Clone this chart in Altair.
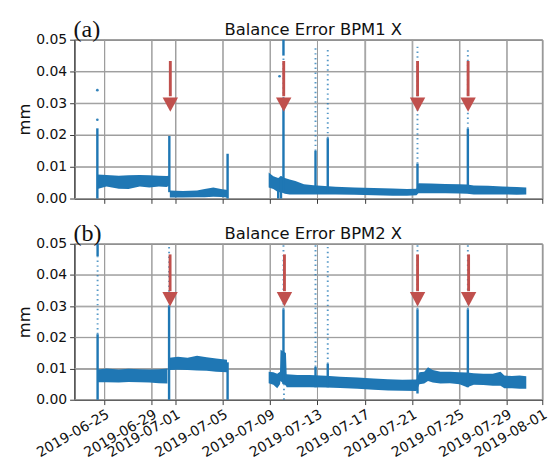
import altair as alt
import pandas as pd

BLUE = "#1f77b4"
RED = "#c0504d"

# ---------------- axis ticks ----------------
tick_dates = ["2019-06-25T00:00", "2019-06-29T00:00", "2019-07-01T00:00", "2019-07-05T00:00",
              "2019-07-09T00:00", "2019-07-13T00:00", "2019-07-17T00:00", "2019-07-21T00:00",
              "2019-07-25T00:00", "2019-07-29T00:00", "2019-08-01T00:00"]
y_ticks = [0.0, 0.01, 0.02, 0.03, 0.04, 0.05]

# ---------------- panel (a): BPM1 ----------------
a_band_seg = [1]*9 + [2]*7 + [3]*26
a_band_time = ["2019-06-24T09:30", "2019-06-25T04:00", "2019-06-26T05:00", "2019-06-27T00:30",
               "2019-06-27T23:30", "2019-06-28T19:00", "2019-06-29T14:20", "2019-06-30T05:50",
               "2019-06-30T11:00",
               "2019-06-30T12:30", "2019-07-01T14:40", "2019-07-02T19:40", "2019-07-03T11:10",
               "2019-07-04T04:40", "2019-07-04T20:10", "2019-07-05T10:00",
               "2019-07-08T21:00", "2019-07-09T06:30", "2019-07-09T16:20", "2019-07-09T22:00",
               "2019-07-10T05:50", "2019-07-10T15:30", "2019-07-11T03:10", "2019-07-11T20:30",
               "2019-07-12T16:00", "2019-07-13T07:20", "2019-07-14T12:30", "2019-07-16T03:00",
               "2019-07-17T17:50", "2019-07-19T08:30", "2019-07-20T13:30", "2019-07-21T08:50",
               "2019-07-21T12:40", "2019-07-22T14:00", "2019-07-23T19:00", "2019-07-25T00:00",
               "2019-07-25T15:30", "2019-07-26T05:00", "2019-07-27T10:00", "2019-07-28T15:10",
               "2019-07-29T20:10", "2019-07-30T15:30"]
a_band_low = [0.0030, 0.0038, 0.0031, 0.0030, 0.0038, 0.0035, 0.0038, 0.0036, 0.0040,
              0.0003, 0.0003, 0.0004, 0.0004, 0.0006, 0.0005, 0.0003,
              0.0035, 0.0030, 0.0020, 0.0020, 0.0015, 0.0013, 0.0013, 0.0013, 0.0013, 0.0013,
              0.0013, 0.0012, 0.0010, 0.0009, 0.0009, 0.0010, 0.0017, 0.0017, 0.0017, 0.0016,
              0.0015, 0.0013, 0.0013, 0.0013, 0.0012, 0.0013]
a_band_high = [0.0076, 0.0074, 0.0072, 0.0073, 0.0074, 0.0073, 0.0072, 0.0071, 0.0072,
               0.0025, 0.0024, 0.0025, 0.0030, 0.0035, 0.0030, 0.0027,
               0.0082, 0.0070, 0.0065, 0.0070, 0.0065, 0.0060, 0.0055, 0.0045, 0.0042, 0.0040,
               0.0037, 0.0035, 0.0033, 0.0032, 0.0030, 0.0031, 0.0048, 0.0047, 0.0046, 0.0045,
               0.0044, 0.0041, 0.0040, 0.0038, 0.0036, 0.0035]

a_spike_time = ["2019-06-24T09:30", "2019-06-30T11:30", "2019-07-05T09:40", "2019-07-09T16:20",
                "2019-07-09T22:00", "2019-07-10T03:00", "2019-07-10T03:00", "2019-07-12T20:00",
                "2019-07-13T20:50", "2019-07-21T10:50", "2019-07-25T17:00"]
a_spike_low = [0.0, 0.0020, 0.0, 0.0, 0.0, 0.0020, 0.0450, 0.0020, 0.0020, 0.0020, 0.0020]
a_spike_high = [0.0221, 0.0197, 0.0141, 0.0060, 0.0070, 0.0300, 0.0500, 0.0150, 0.0190, 0.0110, 0.0220]

a_sparse_time = ["2019-07-10T03:00", "2019-07-12T20:00", "2019-07-13T20:50", "2019-07-21T10:50",
                 "2019-07-25T17:00"]
a_sparse_low = [0.0300, 0.0150, 0.0190, 0.0110, 0.0220]
a_sparse_high = [0.0450, 0.0475, 0.0476, 0.0485, 0.0470]

a_dot_time = ["2019-06-24T09:30", "2019-06-24T09:30", "2019-07-09T19:00"]
a_dot_val = [0.0248, 0.0341, 0.0385]

# ---------------- panel (b): BPM2 ----------------
b_band_seg = [1]*8 + [2]*7 + [3]*32
b_band_time = ["2019-06-24T10:30", "2019-06-25T04:00", "2019-06-26T05:00", "2019-06-27T00:30",
               "2019-06-27T23:30", "2019-06-28T19:00", "2019-06-29T14:20", "2019-06-30T07:40",
               "2019-06-30T11:30", "2019-07-01T05:00", "2019-07-02T00:30", "2019-07-02T19:40",
               "2019-07-03T15:10", "2019-07-04T10:30", "2019-07-05T08:30",
               "2019-07-08T21:00", "2019-07-09T06:30", "2019-07-09T14:20", "2019-07-09T20:00",
               "2019-07-09T21:00", "2019-07-10T08:00", "2019-07-10T09:30", "2019-07-11T07:00",
               "2019-07-12T08:00", "2019-07-13T17:00", "2019-07-14T22:00", "2019-07-16T09:00",
               "2019-07-17T17:50", "2019-07-18T23:00", "2019-07-20T04:00", "2019-07-21T08:50",
               "2019-07-21T14:40", "2019-07-22T00:30", "2019-07-22T08:10", "2019-07-22T17:50",
               "2019-07-23T09:20", "2019-07-24T04:40", "2019-07-25T00:00", "2019-07-25T15:30",
               "2019-07-26T05:00", "2019-07-27T00:30", "2019-07-27T19:40", "2019-07-28T11:10",
               "2019-07-28T19:00", "2019-07-29T10:30", "2019-07-30T02:00", "2019-07-30T15:30"]
b_band_low = [0.0056, 0.0056, 0.0055, 0.0057, 0.0056, 0.0055, 0.0053, 0.0052,
              0.0095, 0.0096, 0.0095, 0.0094, 0.0093, 0.0090, 0.0088,
              0.0053, 0.0048, 0.0037, 0.0050, 0.0060, 0.0045, 0.0040, 0.0040, 0.0040, 0.0039,
              0.0038, 0.0035, 0.0032, 0.0030, 0.0029, 0.0028, 0.0050, 0.0052, 0.0060, 0.0055,
              0.0052, 0.0053, 0.0050, 0.0040, 0.0048, 0.0047, 0.0045, 0.0045, 0.0037, 0.0037,
              0.0035, 0.0035]
b_band_high = [0.0097, 0.0100, 0.0097, 0.0099, 0.0098, 0.0097, 0.0098, 0.0100,
               0.0135, 0.0138, 0.0135, 0.0141, 0.0136, 0.0132, 0.0128,
               0.0090, 0.0088, 0.0083, 0.0090, 0.0160, 0.0150, 0.0082, 0.0079, 0.0079, 0.0077,
               0.0074, 0.0071, 0.0068, 0.0066, 0.0064, 0.0065, 0.0088, 0.0090, 0.0104, 0.0095,
               0.0090, 0.0090, 0.0088, 0.0087, 0.0085, 0.0083, 0.0083, 0.0090, 0.0078, 0.0076,
               0.0078, 0.0075]

b_spike_time = ["2019-06-24T10:00", "2019-06-24T10:00", "2019-06-30T11:00", "2019-07-05T09:40",
                "2019-07-10T03:00", "2019-07-12T20:00", "2019-07-13T20:50", "2019-07-21T10:50",
                "2019-07-25T17:00"]
b_spike_low = [0.0, 0.0460, 0.0, 0.0, 0.0050, 0.0040, 0.0040, 0.0020, 0.0040]
b_spike_high = [0.0210, 0.0500, 0.0300, 0.0120, 0.0290, 0.0105, 0.0115, 0.0290, 0.0290]

b_sparse_time = ["2019-06-24T10:00", "2019-06-30T11:00", "2019-07-10T03:00", "2019-07-10T04:00",
                 "2019-07-12T20:00", "2019-07-13T20:50", "2019-07-21T10:50", "2019-07-25T17:00"]
b_sparse_low = [0.0210, 0.0300, 0.0290, 0.0, 0.0105, 0.0115, 0.0290, 0.0290]
b_sparse_high = [0.0460, 0.0500, 0.0500, 0.0050, 0.0500, 0.0500, 0.0500, 0.0500]

# ---------------- arrows ----------------
a_arrow_time = ["2019-06-30T13:30", "2019-07-10T03:30", "2019-07-21T11:00", "2019-07-25T17:30"]
a_arrow_top = [0.0433, 0.0433, 0.0433, 0.0433]
a_arrow_tip = [0.0273, 0.0273, 0.0273, 0.0273]
a_arrow_base = [0.0322, 0.0322, 0.0322, 0.0322]
b_arrow_time = ["2019-06-30T13:00", "2019-07-10T05:00", "2019-07-21T11:00", "2019-07-25T18:30"]
b_arrow_top = [0.0466, 0.0466, 0.0466, 0.0466]
b_arrow_tip = [0.0299, 0.0299, 0.0299, 0.0299]
b_arrow_base = [0.0348, 0.0348, 0.0348, 0.0348]

titles = ["Balance Error BPM1 X", "Balance Error BPM2 X"]
panel_tags = ["(a)", "(b)"]


def dt(s):
    d = pd.Timestamp(s)
    return alt.DateTime(year=d.year, month=d.month, date=d.day, hours=d.hour, minutes=d.minute)


X_DOMAIN = [dt("2019-06-22T11:00"), dt("2019-08-01T00:00")]
TICK_VALUES = [dt(s) for s in tick_dates]
PLOT_W = 486
GRID = "#9c9c9c"


def xenc(show_labels):
    if show_labels:
        ax = alt.Axis(values=TICK_VALUES, format="%Y-%m-%d", labelAngle=330, labelAlign="right",
                      labelBaseline="top", labelOverlap=False, labelFlush=False, labelPadding=3,
                      title=None, grid=True)
    else:
        ax = alt.Axis(values=TICK_VALUES, labels=False, title=None, grid=True)
    return alt.X("t:T", scale=alt.Scale(domain=X_DOMAIN), axis=ax)


def yenc(field):
    return alt.Y(f"{field}:Q", scale=alt.Scale(domain=[0, 0.05], nice=False, zero=False),
                 axis=alt.Axis(values=y_ticks, format=".2f", title="mm", grid=True))


def panel(band_seg, band_time, band_low, band_high, sp_t, sp_lo, sp_hi, sr_t, sr_lo, sr_hi,
          dot_t, dot_v, ar_t, ar_top, ar_base, ar_tip, title, tag, show_labels, height):
    band = pd.DataFrame({"t": band_time, "low": band_low, "high": band_high, "seg": band_seg})
    spikes = pd.DataFrame({"t": sp_t, "low": sp_lo, "high": sp_hi})
    sparse = pd.DataFrame({"t": sr_t, "low": sr_lo, "high": sr_hi})
    arrows = pd.DataFrame({"t": ar_t, "top": ar_top, "base": ar_base, "tip": ar_tip})
    xgrid = pd.DataFrame({"t": tick_dates, "low": [0.0] * len(tick_dates),
                          "high": [0.05] * len(tick_dates)})
    ygrid = pd.DataFrame({"low": y_ticks})
    X = xenc(show_labels)

    layers = [
        alt.Chart(xgrid).mark_rule(color=GRID, strokeWidth=1, opacity=1).encode(
            x=X, y=yenc("low"), y2="high:Q"),
        alt.Chart(ygrid).mark_rule(color=GRID, strokeWidth=1, opacity=1).encode(
            y=yenc("low"), x=alt.value(0), x2=alt.value(PLOT_W)),
        alt.Chart(band).mark_area(color=BLUE, opacity=1, interpolate="linear").encode(
            x=X, y=yenc("low"), y2="high:Q", detail="seg:N"),
        alt.Chart(spikes).mark_rule(color=BLUE, strokeWidth=2.5).encode(
            x=X, y=yenc("low"), y2="high:Q"),
        alt.Chart(sparse).mark_rule(color=BLUE, strokeWidth=2, strokeDash=[1.5, 3.5],
                                    opacity=0.75).encode(x=X, y=yenc("low"), y2="high:Q"),
    ]
    if dot_t:
        dots = pd.DataFrame({"t": dot_t, "low": dot_v})
        layers.append(alt.Chart(dots).mark_circle(color=BLUE, size=8, opacity=0.9).encode(
            x=X, y=yenc("low")))
    layers += [
        alt.Chart(arrows).mark_rule(color=RED, strokeWidth=3).encode(
            x=X, y=yenc("top"), y2="base:Q"),
        alt.Chart(arrows).mark_point(shape="M-1,-1.875L1,-1.875L0,0Z", size=256, filled=True,
                                     color=RED, opacity=1, strokeWidth=0).encode(
            x=X, y=yenc("tip")),
        alt.Chart(pd.DataFrame({"tag": [tag]})).mark_text(
            font="Liberation Serif", fontSize=25, align="left", baseline="alphabetic",
            color="#111").encode(x=alt.value(-1), y=alt.value(-3), text="tag:N"),
        alt.Chart(pd.DataFrame({"title": [title]})).mark_text(
            font="DejaVu Sans", fontSize=17, align="center", baseline="alphabetic",
            color="#111").encode(x=alt.value(248), y=alt.value(-5), text="title:N"),
    ]
    return alt.layer(*layers).properties(width=PLOT_W, height=height)


pa = panel(a_band_seg, a_band_time, a_band_low, a_band_high, a_spike_time, a_spike_low,
           a_spike_high, a_sparse_time, a_sparse_low, a_sparse_high, a_dot_time, a_dot_val,
           a_arrow_time, a_arrow_top, a_arrow_base, a_arrow_tip, titles[0], panel_tags[0],
           False, 165)
pb = panel(b_band_seg, b_band_time, b_band_low, b_band_high, b_spike_time, b_spike_low,
           b_spike_high, b_sparse_time, b_sparse_low, b_sparse_high, [], [],
           b_arrow_time, b_arrow_top, b_arrow_base, b_arrow_tip, titles[1], panel_tags[1],
           True, 162)

chart = alt.vconcat(pa, pb, spacing=16).properties(
    padding={"left": 8, "top": 0, "right": 0, "bottom": 0},
).configure_axis(
    labelFont="DejaVu Sans", labelFontSize=14.5, labelColor="#111",
    titleFont="DejaVu Sans", titleFontSize=17, titleFontWeight="normal", titleColor="#111",
    titlePadding=2, gridColor=GRID, gridOpacity=1, gridWidth=1,
    domainColor="#333", tickColor="#333", tickSize=5, labelPadding=3,
).configure_view(stroke="#333", strokeWidth=1)

chart.save("out.html", embed_options={"renderer": "svg", "actions": False})
